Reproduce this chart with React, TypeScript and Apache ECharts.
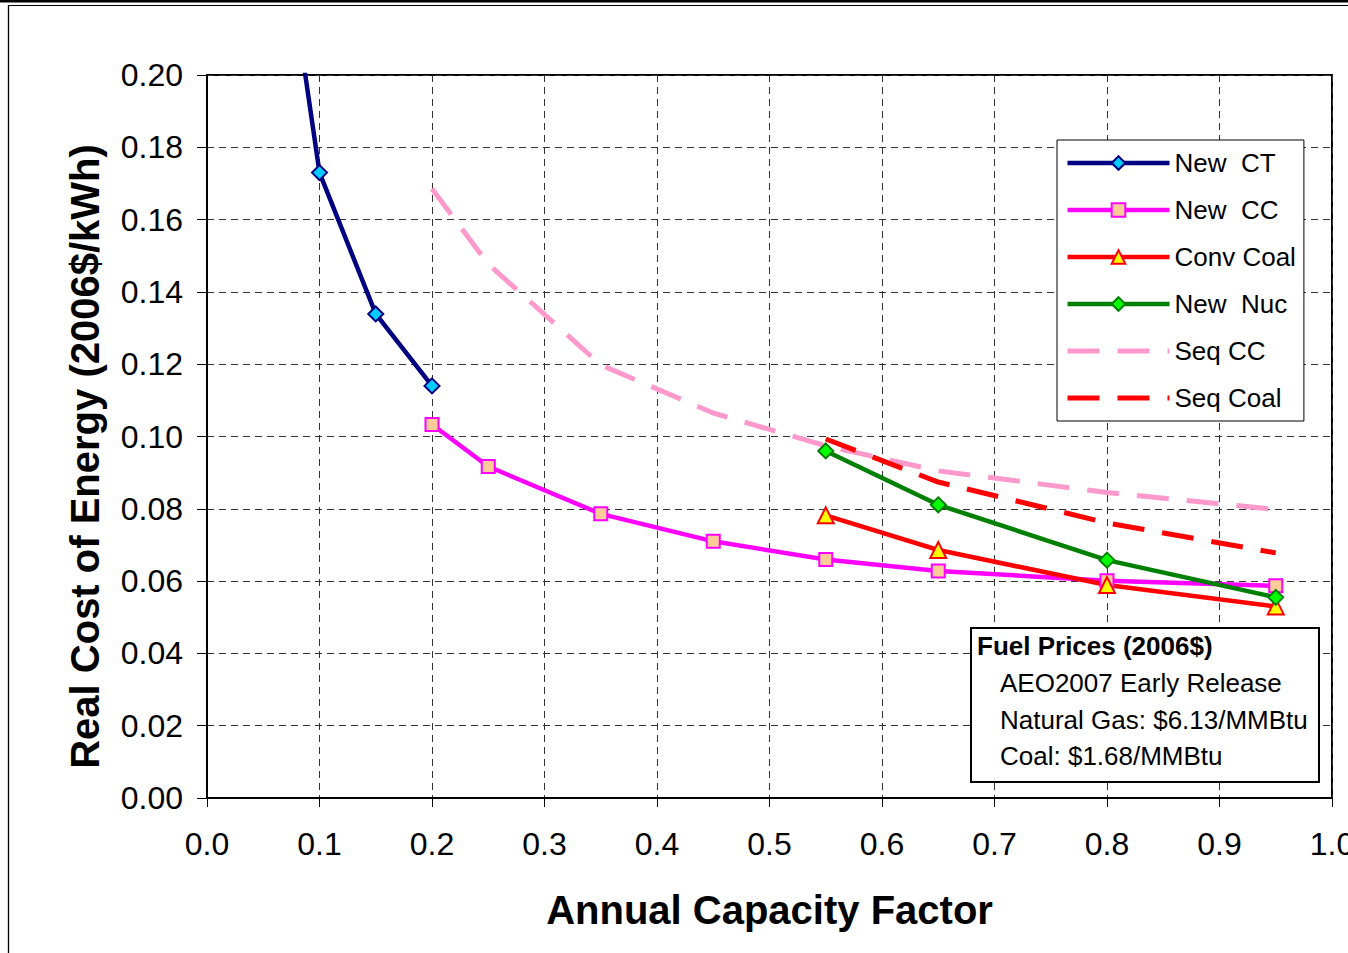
import React, { useEffect, useRef } from "react";
import * as echarts from "echarts";

const FONT = '"Liberation Sans", Arial, sans-serif';

const ctX = [0.05, 0.1, 0.15, 0.2];
const ctY = [0.28, 0.173, 0.1339, 0.114];
const ccX = [0.2, 0.25, 0.35, 0.45, 0.55, 0.65, 0.8, 0.95];
const ccY = [0.1033, 0.0917, 0.0786, 0.071, 0.066, 0.0628, 0.0601, 0.0587];
const coalX = [0.55, 0.65, 0.8, 0.95];
const coalY = [0.0782, 0.0686, 0.0589, 0.053];
const nucX = [0.55, 0.65, 0.8, 0.95];
const nucY = [0.096, 0.0811, 0.0658, 0.0555];
const seqCcX = [0.2, 0.25, 0.35, 0.45, 0.55, 0.65, 0.8, 0.95];
const seqCcY = [0.1685, 0.1477, 0.1198, 0.1065, 0.0974, 0.0905, 0.0845, 0.0798];
const seqCoalX = [0.55, 0.65, 0.8, 0.95];
const seqCoalY = [0.0993, 0.0874, 0.0761, 0.0678];

const seriesNames = ["New  CT", "New  CC", "Conv Coal", "New  Nuc", "Seq CC", "Seq Coal"];
const xAxisTitle = "Annual Capacity Factor";
const yAxisTitle = "Real Cost of Energy (2006$/kWh)";
const noteTitle = "Fuel Prices (2006$)";
const noteLines = ["AEO2007 Early Release", "Natural Gas: $6.13/MMBtu", "Coal: $1.68/MMBtu"];

const pairs = (xs: number[], ys: number[]) => xs.map((x, i) => [x, ys[i]]);

export default function App() {
  const ref = useRef<HTMLDivElement>(null);
  useEffect(() => {
    if (!ref.current) return;
    const chart = echarts.init(ref.current, undefined, { renderer: "svg" });
    const markerLine = (
      name: string,
      data: number[][],
      lineColor: string,
      symbol: string,
      size: number,
      fill: string
    ) => ({
      name,
      type: "line",
      data,
      symbol,
      symbolSize: size,
      showAllSymbol: true,
      lineStyle: { color: lineColor, width: 4.5 },
      itemStyle: { color: fill, borderColor: lineColor, borderWidth: 2 },
      z: 3,
    });
    const dashLine = (name: string, data: number[][], color: string) => ({
      name,
      type: "line",
      data,
      symbol: "none",
      lineStyle: { color, width: 5, type: [32, 18] },
      itemStyle: { color },
      z: 2,
    });
    const hidden = { color: "rgba(0,0,0,0)", borderColor: "rgba(0,0,0,0)", borderWidth: 0, opacity: 0 };
    const noteText = (text: string, x: number, y: number, bold: boolean, size: number) => ({
      type: "text",
      x,
      y,
      z: 22,
      style: { text, fontSize: size, fontWeight: bold ? "bold" : "normal", fontFamily: FONT, fill: "#000", verticalAlign: "middle", align: "left" },
    });
    chart.setOption({
      animation: false,
      textStyle: { fontFamily: FONT },
      grid: {
        left: 207,
        top: 75,
        width: 1125,
        height: 723,
        show: true,
        borderColor: "#000",
        borderWidth: 2,
        backgroundColor: "transparent",
        containLabel: false,
        outerBoundsMode: "none",
      },
      legend: {
        orient: "vertical",
        left: 1057,
        top: 140,
        itemWidth: 102,
        itemHeight: 17,
        itemGap: 21,
        padding: [10, 8, 10, 8],
        backgroundColor: "#fff",
        borderColor: "#000",
        borderWidth: 1,
        textStyle: { fontSize: 26, color: "#000", fontFamily: FONT },
        data: [
          { name: seriesNames[0], lineStyle: { width: 4.5 }, itemStyle: { borderWidth: 2 } },
          { name: seriesNames[1], lineStyle: { width: 4.5 }, itemStyle: { borderWidth: 2 } },
          { name: seriesNames[2], lineStyle: { width: 4.5 }, itemStyle: { borderWidth: 2 } },
          { name: seriesNames[3], lineStyle: { width: 4.5 }, itemStyle: { borderWidth: 2 } },
          { name: seriesNames[4], lineStyle: { width: 5 }, itemStyle: hidden },
          { name: seriesNames[5], lineStyle: { width: 5 }, itemStyle: hidden },
        ],
        z: 10,
      },
      xAxis: {
        type: "value",
        min: 0,
        max: 1,
        interval: 0.1,
        name: xAxisTitle,
        nameLocation: "middle",
        nameGap: 92,
        nameTextStyle: { fontSize: 40, fontWeight: "bold", color: "#000", fontFamily: FONT },
        axisLine: { show: true, onZero: false, lineStyle: { color: "#000", width: 2 } },
        axisTick: { show: true, inside: false, length: 9, lineStyle: { color: "#000", width: 1 } },
        axisLabel: { fontSize: 32, color: "#000", margin: 30, formatter: (v: number) => v.toFixed(1) },
        splitLine: { show: true, lineStyle: { color: "#333", width: 1, type: [7, 5] } },
      },
      yAxis: {
        type: "value",
        min: 0,
        max: 0.2,
        interval: 0.02,
        name: yAxisTitle,
        nameLocation: "middle",
        nameGap: 102,
        nameRotate: 90,
        nameTextStyle: { fontSize: 40, fontWeight: "bold", color: "#000", fontFamily: FONT, padding: [0, 40, 0, 0] },
        axisLine: { show: true, onZero: false, lineStyle: { color: "#000", width: 2 } },
        axisTick: { show: true, inside: false, length: 10, lineStyle: { color: "#000", width: 1 } },
        axisLabel: { fontSize: 32, color: "#000", margin: 24, formatter: (v: number) => v.toFixed(2) },
        splitLine: { show: true, lineStyle: { color: "#333", width: 1, type: [7, 5] } },
      },
      series: [
        markerLine(seriesNames[0], pairs(ctX, ctY), "#000080", "diamond", 15, "#00CCFF"),
        markerLine(seriesNames[1], pairs(ccX, ccY), "#FF00FF", "rect", 13, "#FFCC99"),
        markerLine(seriesNames[2], pairs(coalX, coalY), "#FF0000", "triangle", 16, "#FFFF00"),
        markerLine(seriesNames[3], pairs(nucX, nucY), "#008000", "diamond", 15, "#00FF00"),
        dashLine(seriesNames[4], pairs(seqCcX, seqCcY), "#FF99CC"),
        dashLine(seriesNames[5], pairs(seqCoalX, seqCoalY), "#FF0000"),
      ],
      graphic: [
        { type: "rect", shape: { x: 0, y: 0, width: 1348, height: 2.5 }, style: { fill: "#000" }, z: 20 },
        { type: "line", shape: { x1: 8, y1: 5.5, x2: 1348, y2: 5.5 }, style: { stroke: "#000", lineWidth: 1 }, z: 20 },
        { type: "line", shape: { x1: 8.5, y1: 5, x2: 8.5, y2: 953 }, style: { stroke: "#000", lineWidth: 1.3 }, z: 20 },
        { type: "rect", z: 21, shape: { x: 971, y: 628, width: 348, height: 154 }, style: { fill: "#fff", stroke: "#000", lineWidth: 2 } },
        noteText(noteTitle, 977, 646, true, 26),
        noteText(noteLines[0], 1000, 683, false, 26),
        noteText(noteLines[1], 1000, 720, false, 26),
        noteText(noteLines[2], 1000, 756, false, 26),
      ],
    });
    return () => chart.dispose();
  }, []);
  return <div ref={ref} style={{ position: "fixed", left: 0, top: 0, width: 1348, height: 953, background: "#fff" }} />;
}
